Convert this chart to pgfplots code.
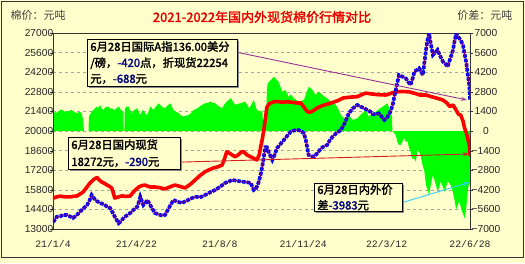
\documentclass[border=0pt]{standalone}
\usepackage{fontspec}
\setmainfont{Liberation Sans}
\newfontfamily\cjk{Noto Sans CJK SC}
\newfontfamily\cjkb[FakeBold=2]{Noto Sans CJK SC}
\newfontfamily\mono{Liberation Mono}
\usepackage{pgfplots}
\usepackage{pgfplotstable}
\pgfplotsset{compat=1.18}
\usetikzlibrary{shadows,arrows.meta}
\definecolor{bg}{RGB}{255,255,204}
\definecolor{gbar}{RGB}{0,255,0}
\definecolor{pline}{RGB}{128,0,128}
\definecolor{navy2}{RGB}{0,0,128}
\definecolor{titlered}{RGB}{230,0,0}
\definecolor{arrowp}{RGB}{153,51,153}
\definecolor{arrowr}{RGB}{215,30,30}
\definecolor{arrowc}{RGB}{51,204,255}
\newcommand\mn{\symbol{"2212}}

\pgfplotstableread{
day val
0 15200
5 15300
9 15350
15 15300
22 15290
27 15340
31 15360
35 15500
39 15640
44 16000
48 16290
53 16550
57 16680
60 16500
63 16360
67 16250
70 16140
73 16050
76 15930
78 15600
80 15210
84 15280
89 15360
95 15330
100 15360
105 15700
111 16000
115 16100
119 16140
123 16050
126 16000
132 16000
138 15950
145 15860
151 16000
158 16140
164 16050
171 15930
178 16200
184 16500
190 16800
197 17090
203 17250
208 17360
214 17450
219 17570
222 18000
225 18520
229 18400
233 18250
236 18160
240 18300
244 18500
247 18520
251 18300
256 18160
260 18050
264 17930
267 18300
269 18880
271 19400
273 20070
275 20900
277 21700
280 21950
286 22090
292 22100
297 22050
303 22090
310 22050
316 22000
321 22000
325 21700
329 21400
332 21320
337 21450
342 21640
348 21800
354 21900
360 22000
368 22150
376 22360
385 22420
394 22450
400 22600
405 22710
412 22650
420 22600
431 22570
438 22700
444 22800
452 22820
461 22800
468 22700
475 22570
483 22570
490 22450
496 22360
501 22280
505 22210
510 22000
514 21740
518 21860
522 21500
525 21200
528 21140
531 20700
533 20210
535 19900
537 19500
539 19000
540 18272
}\reddata

\pgfplotstableread{
day val
0 13500
3 13700
5 13880
9 13900
13 14000
18 14000
22 13900
26 13790
30 13950
35 14240
40 14500
44 14710
47 15000
50 15430
53 15200
55 15070
58 14950
61 14860
64 14800
67 14710
70 14600
74 14500
77 14200
80 13880
83 13600
85 13410
88 13550
91 13760
95 13950
100 14140
105 14400
109 14590
111 14900
113 15300
115 15000
117 14710
120 14900
122 15070
125 14800
128 14500
132 14140
136 14050
139 14000
142 13950
145 14000
150 14500
156 15070
161 14950
167 14860
172 15000
176 15100
180 15210
185 15300
190 15250
197 15430
203 15600
210 15790
216 16000
223 16290
228 16400
232 16500
238 16450
245 16380
250 16350
256 16290
260 15790
263 15900
266 16290
269 16900
271 17450
273 18160
275 18840
277 18840
280 18400
284 17930
287 18300
290 18760
295 19100
299 19360
304 19700
308 19950
313 20050
318 20070
322 19950
325 19840
328 19200
331 18290
335 18200
338 18160
342 18400
347 18760
351 18900
355 19000
358 19300
362 19590
367 19850
373 20070
378 20600
383 21260
388 21600
394 21860
398 21750
403 21620
407 21500
411 21380
414 21200
418 21200
422 21260
426 21000
429 20790
433 21000
437 21380
440 21900
442 22450
445 23200
448 24000
452 23900
457 23760
460 23500
463 23290
466 23800
468 24240
471 24350
474 24480
477 24200
479 24000
481 24900
483 25790
485 26500
487 26950
490 26000
492 25430
495 25600
498 25790
501 25400
505 24950
508 24800
511 24590
514 25100
518 25790
520 26400
522 26950
525 26700
528 26500
531 26100
533 25500
535 24950
537 24100
539 23290
540 22254
}\bluedata

\pgfplotstableread{
day val
0 1450
3 1300
5 1310
8 1450
11 1550
14 1400
18 1380
21 1450
24 1500
28 1350
31 1260
34 1380
37 1300
39 790
40 0
46 0
46.5 1020
50 1380
54 1600
57 1740
59 1650
61 1860
63 1600
65 1500
68 1700
72 1740
74 1600
76 1620
78 1550
80 1500
83 1650
85 1740
88 1500
91 1380
91.5 0
92.5 0
93 1600
95 1740
98 1740
102 1260
105 1500
109 1620
113 1140
116 1500
119 1300
122 1140
126 1740
130 1500
134 1800
137 1980
139 1860
142 1700
145 1620
148 1800
152 1980
156 1500
160 1350
163 1260
166 1100
169 1020
172 1100
176 1140
179 1300
182 1500
187 1620
190 1750
193 1860
197 1980
200 2000
204 2100
207 2000
210 1980
214 1800
219 1620
222 1900
225 2100
230 2340
233 2100
236 1860
240 1950
243 1980
246 2050
249 2100
254 1620
257 1900
260 2220
264 1500
269 1380
271 1500
272 600
274 300
276 300
277 3000
278 3400
282 3640
286 3880
289 3700
292 3520
297 2810
301 2930
305 2450
308 2600
312 2340
318 2100
325 2220
328 2700
331 3160
336 2930
340 2570
344 2810
349 2570
355 2340
360 2100
364 1980
368 1740
373 1140
379 790
383 1140
388 790
394 900
398 1140
405 1500
409 1020
414 1300
418 1380
423 1600
427 1740
433 1980
437 1380
439 1000
439.5 0
441 -100
444 -290
446 -800
448 -1000
450 -1000
453 -700
455 -500
457 -800
459 -700
461 -1200
463 -1480
465 -1950
468 -2000
470 -2190
472 -1360
474 -1500
476 -1710
478 -2300
481 -2900
483 -3860
485 -4200
487 -4570
490 -3600
492 -3140
494 -3500
496 -3860
498 -4330
500 -4000
502 -3620
505 -4000
507 -4330
509 -4000
511 -3620
513 -3700
515 -3860
518 -4400
520 -4930
522 -5640
524 -5300
526 -5050
528 -5400
530 -5760
533 -6240
535 -5640
537 -4330
539 -3620
540 -3983
}\greendata

\begin{document}
\begin{tikzpicture}[x=1pt,y=1pt]
\fill[bg] (0,0) rectangle (525,263);
\useasboundingbox (0,0) rectangle (525,263);
\draw[black!80, line width=0.8pt] (1,6) rectangle (523.5,262);

% right axis: spread (green) with grid
\begin{axis}[
  at={(53pt,34pt)}, anchor=south west, scale only axis,
  width=417pt, height=196pt,
  xmin=0, xmax=540, ymin=-7000, ymax=7000,
  axis x line=none, axis y line*=right,
  ytick={-7000,-5600,-4200,-2800,-1400,0,1400,2800,4200,5600,7000},
  yticklabels={\mn7000,\mn5600,\mn4200,\mn2800,\mn1400,0,1400,2800,4200,5600,7000},
  ymajorgrids, grid style={dash pattern=on 3pt off 3pt, black!35, line width=0.5pt},
  tick align=outside, major tick length=3pt,
  y axis line style={black!80, line width=0.8pt},
  ytick style={black!80},
  yticklabel style={font=\fontsize{10.2}{12}\selectfont, text=black!85, anchor=center, xshift=13pt}]
\addplot[draw=none, fill=gbar] table[x=day, y=val] {\greendata} \closedcycle;
\end{axis}

% left axis: prices
\begin{axis}[
  at={(53pt,34pt)}, anchor=south west, scale only axis,
  width=417pt, height=196pt,
  xmin=0, xmax=540, ymin=13000, ymax=27000,
  axis line style={black!80, line width=0.8pt},
  ytick={13000,14400,...,27000},
  scaled y ticks=false,
  ytick pos=left, xtick pos=bottom,
  xtick={0,108,216,324,432,540},
  xticklabels={21/1/4,21/4/22,21/8/8,21/11/24,22/3/12,22/6/28},
  xtick style={draw=none},
  ytick style={black!80},
  tick align=outside, major tick length=3pt,
  yticklabel style={font=\fontsize{10.2}{12}\selectfont, text=black!85, anchor=center, xshift=-11pt},
  xticklabel style={font=\mono\fontsize{9.8}{12}\selectfont, text=black!85, yshift=-5pt},
  /pgf/number format/.cd, 1000 sep={}, assume math mode=true]
\addplot[red, line width=3.6pt, line join=round, line cap=round] table[x=day, y=val] {\reddata};
\addplot[pline, line width=1.3pt, line join=round] table[x=day, y=val] {\bluedata};
\addplot[blue, line width=3.6pt, dash pattern=on 3.5pt off 1.2pt] table[x=day, y=val] {\bluedata};
\addplot[pline, line width=0.7pt, line join=round] table[x=day, y=val] {\bluedata};
\draw[black!80, line width=0.8pt] (axis cs:108,13000) -- ++(0,4pt);
\draw[black!80, line width=0.8pt] (axis cs:216,13000) -- ++(0,4pt);
\draw[black!80, line width=0.8pt] (axis cs:324,13000) -- ++(0,4pt);
\draw[black!80, line width=0.8pt] (axis cs:432,13000) -- ++(0,4pt);
\end{axis}

% titles
\node[font=\cjkb\fontsize{13}{15}\selectfont, text=titlered] at (262,246) {2021-2022年国内外现货棉价行情对比};
\node[anchor=west, font=\cjk\fontsize{11}{13}\selectfont, text=black!75] at (7,248) {棉价：元吨};
\node[anchor=east, font=\cjk\fontsize{11}{13}\selectfont, text=black!75] at (516,248) {价差：元吨};

% annotation arrows
\draw[arrowp, line width=0.9pt, -{Stealth[length=6pt,width=4pt]}] (237,210.7) -- (467,163);
\draw[arrowr, line width=0.9pt, -{Stealth[length=6pt,width=4pt]}] (174,100.7) -- (469,109);
\draw[arrowc, line width=0.9pt, -{Stealth[length=6pt,width=4pt]}] (402,60.3) -- (469,80.5);

% annotation boxes
\node[draw=black, line width=0.7pt, fill=bg, drop shadow={shadow xshift=2pt, shadow yshift=-2pt, fill=black!45, opacity=1},
  anchor=north west, inner xsep=3pt, inner ysep=2pt, text width=144pt, align=left,
  font=\cjkb\fontsize{11.3}{16}\selectfont] at (87,224)
  {6月28日国际A指136.00美分\\/磅，\textcolor{navy2}{-420}点，折现货22254\\元，\textcolor{navy2}{-688}元};
\node[draw=black, line width=0.7pt, fill=bg, drop shadow={shadow xshift=2pt, shadow yshift=-2pt, fill=black!45, opacity=1},
  anchor=north west, inner xsep=3pt, inner ysep=2pt, text width=106pt, align=left,
  font=\cjkb\fontsize{11.3}{17}\selectfont] at (68,126)
  {6月28日国内现货\\18272元，\textcolor{navy2}{-290}元};
\node[draw=black, line width=0.7pt, fill=bg, drop shadow={shadow xshift=2pt, shadow yshift=-2pt, fill=black!45, opacity=1},
  anchor=north west, inner xsep=3pt, inner ysep=1pt, text width=82pt, align=left,
  font=\cjkb\fontsize{11.3}{15.6}\selectfont] at (314,80)
  {6月28日内外价\\差\textcolor{navy2}{-3983}元};
\end{tikzpicture}
\end{document}
